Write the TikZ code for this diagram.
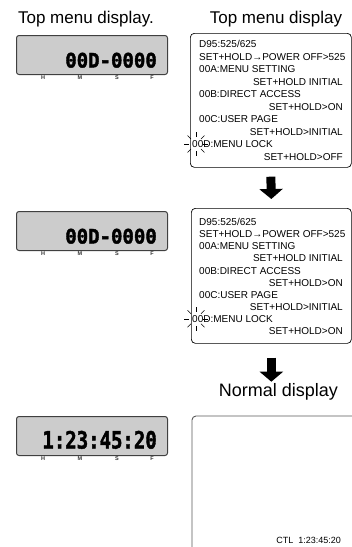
\documentclass[tikz,border=0pt]{standalone}
\usepackage{fontspec}
\setmainfont{Liberation Sans}
\newfontfamily\lcdfont{DejaVu Sans Mono}[BoldFeatures={FakeBold=2}]
\usetikzlibrary{arrows.meta}

\tikzset{
    title/.style={font=\fontsize{17}{19}\selectfont, inner sep=0pt},
    lcdbox/.style={draw=black!75, fill=black!20, rounded corners=2.5pt, line width=1pt},
    lcdval/.style={font=\lcdfont\bfseries\fontsize{19}{19}\selectfont, inner sep=0pt},
    hmsf/.style={font=\bfseries\fontsize{5.5}{6}\selectfont, text=black!80, inner sep=0pt},
    menubox/.style={draw, rounded corners=4pt, line width=0.7pt},
    menutxt/.style={font=\fontsize{10}{12}\selectfont, inner sep=0pt, text height=7.2pt, text depth=0pt},
    blink/.style={line width=0.5pt},
    blockarrow/.style={line width=9pt, -{Triangle[width=23pt,length=10pt]}},
}

\begin{document}
\begin{tikzpicture}[x=1pt, y=-1pt]
    \useasboundingbox (0,0) rectangle (352,547);
    \clip (0,0) rectangle (352,547);

    % titles
    \node[title, anchor=base] (ttlL) at (86,23.5) {Top menu display.};
    \node[title, anchor=base] (ttlR) at (276,23.5) {Top menu display};
    \node[title, font=\fontsize{18}{20}\selectfont, anchor=base] (ttlN) at (278.5,396) {Normal display};

    % lcd panels on the left
    \foreach \n/\y/\v/\s in {lcdA/35/00D-0000/1.05, lcdB/211/00D-0000/1.05, lcdC/416/1:23:45:20/1.25} {
        \node[lcdbox, minimum width=151pt, minimum height=39pt, anchor=north west] (\n) at (16,\y) {};
        \node[lcdval, anchor=base east] (\n-val) at (157,\y+32.5) {\scalebox{1}[\s]{\v}};
        \foreach \l/\x in {H/43,M/80,S/117,F/152}
            \node[hmsf] (\n-\l) at (\x,\y+42.5) {\l};
    }

    % menu screens on the right
    \node[menubox, minimum width=161pt, minimum height=134pt, anchor=north west] (menuA) at (190,33) {};
    \node[menubox, minimum width=160pt, minimum height=135pt, anchor=north west] (menuB) at (191,208) {};
    \foreach \m/\y/\d/\last in {menuA/44/12.5/OFF, menuB/222/12.1/ON} {
        \foreach \i/\t in {0/{D95:525/625}, 1/SET+HOLD→POWER OFF>525, 2/00A:MENU SETTING, 4/00B:DIRECT ACCESS, 6/00C:USER PAGE}
            \node[menutxt, anchor=west] (\m-\i) at (199,\y+\i*\d) {\t};
        \node[menutxt, anchor=west] (\m-8) at (192,\y+8*\d) {00D:MENU LOCK};
        \foreach \i/\t in {3/SET+HOLD INITIAL, 5/SET+HOLD>ON, 7/SET+HOLD>INITIAL, 9/SET+HOLD>\last}
            \node[menutxt, anchor=east] (\m-\i) at (343,\y+\i*\d) {\t};
        % blinking marks round 00D
        \coordinate (\m-blink) at (196,\y+8*\d);
        \foreach \a in {0,45,...,315}
            \draw[blink] (\m-blink) ++(\a:7) -- ++(\a:5);
    }

    % normal display
    \draw[draw=black!65, rounded corners=4pt, line width=0.9pt] (192,560) |- (360,416);
    \node[menutxt, font=\fontsize{9}{11}\selectfont, anchor=east] (ctl) at (341,540) {CTL\ \ 1:23:45:20};

    % arrows
    \draw[blockarrow] ([yshift=-9pt]menuA.south) -- ([yshift=9pt]menuB.north);
    \draw[blockarrow] ([yshift=-14pt]menuB.south) -- ([yshift=-38pt]menuB.south);
\end{tikzpicture}
\end{document}
